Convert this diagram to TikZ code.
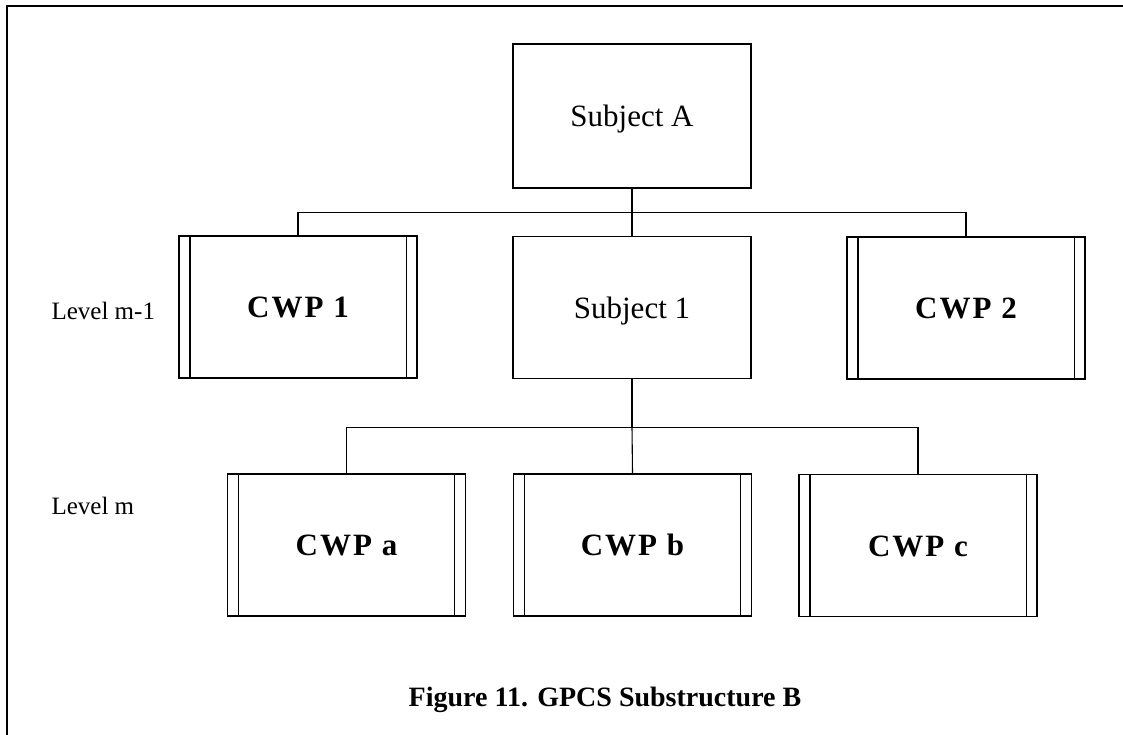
\documentclass[tikz,border=0pt]{standalone}
\usepackage{fontspec}
\setmainfont{Liberation Serif}
\begin{document}
\begin{tikzpicture}[x=1pt,y=1pt,
  line width=1.1pt,
  box/.style={draw, rectangle, minimum width=238pt, minimum height=142pt,
    inner sep=0pt, text height=21pt, text depth=0pt,
    font=\fontsize{31}{36}\selectfont},
  cwp/.style={box, font=\fontsize{31}{36}\selectfont\bfseries},
  lvl/.style={anchor=base west, inner sep=0pt, font=\fontsize{25}{28}\selectfont},
  figcaption/.style={anchor=base, inner sep=0pt, font=\fontsize{28}{32}\selectfont\bfseries}]
\useasboundingbox (0,0) rectangle (1123,-735);

% frame edges
\draw (1123,-6) -- (7,-6) -- (7,-735);

% top subject
\node[box, minimum height=144pt] (subA) at (632,-116) {Subject A};

% level m-1
\node[cwp] (cwp1) at (298,-307) {C\kern2pt W\kern2pt P\kern2pt\ 1};
\node[box] (sub1) at (632,-307.5) {Subject 1};
\node[cwp] (cwp2) at (966,-308) {C\kern2pt W\kern2pt P\kern2pt\ 2};

% level m
\node[cwp] (cwpa) at (346.5,-545) {C\kern2pt W\kern2pt P\kern2pt\ a};
\node[cwp] (cwpb) at (632.5,-545) {C\kern2pt W\kern2pt P\kern2pt\ b};
\node[cwp] (cwpc) at (918,-545.5) {C\kern2pt W\kern2pt P\kern2pt\ c};

% inner side bars of the work-package boxes
\foreach \n in {cwp1,cwp2,cwpa,cwpb,cwpc}{
  \draw ([xshift=11.5pt]\n.north west) -- ([xshift=11.5pt]\n.south west);
  \draw ([xshift=-11.5pt]\n.north east) -- ([xshift=-11.5pt]\n.south east);
}

% connectors
\draw (subA.south) -- ++(0,-24) coordinate (j1);
\draw (cwp1.north) |- (j1) -| (cwp2.north);
\draw (j1) -- (sub1.north);
\draw (sub1.south) -- ++(0,-48) coordinate (j2);
\draw (cwpa.north) |- (j2) -| (cwpc.north);
\draw (j2) -- (cwpb.north);

% level labels
\node[lvl] (lm1) at (51,-319) {Level m-1};
\node[lvl] (lm) at (51,-514) {Level m};

% caption
\node[figcaption] (caption) at (605,-706) {Figure 11. GPCS Substructure B};
\end{tikzpicture}
\end{document}
